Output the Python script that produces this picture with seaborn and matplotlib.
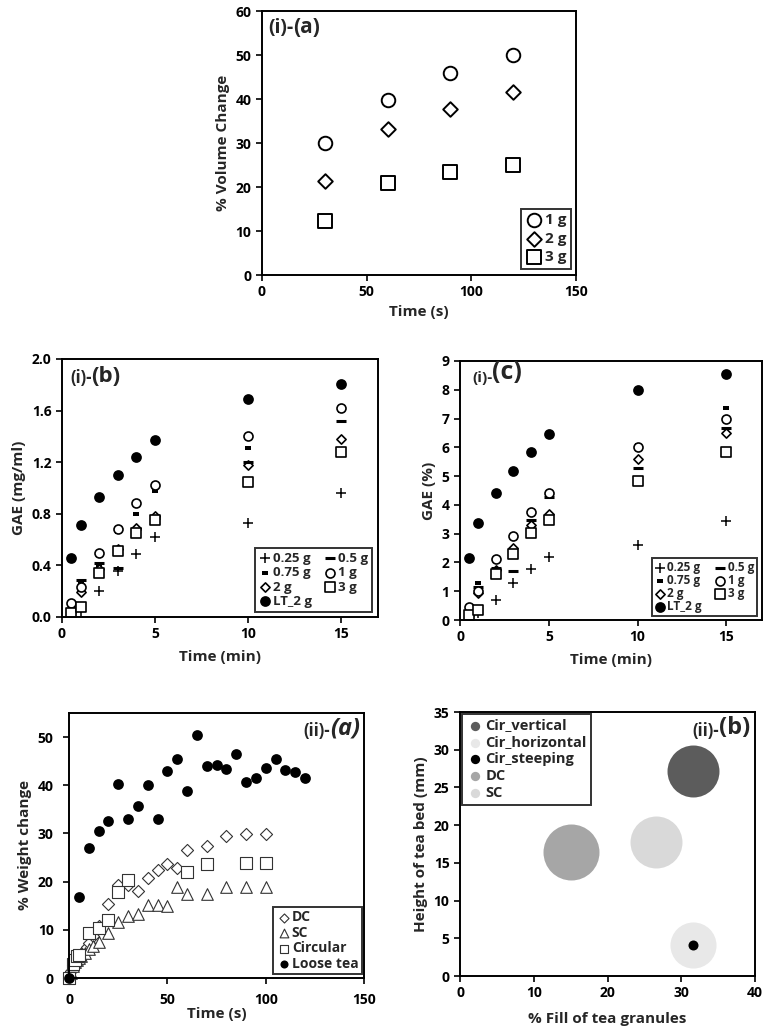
import numpy as np
import pandas as pd
import seaborn as sns
import matplotlib.pyplot as plt

sns.set_style("ticks")
plt.rcParams['font.family'] = ['Open Sans', 'DejaVu Sans']
plt.rcParams['font.weight'] = 'bold'
plt.rcParams['axes.labelweight'] = 'bold'

# %% data: (i)-(a) volume change
vol_time = [30, 60, 90, 120]
vol_1g = [30.0, 39.8, 46.0, 50.0]
vol_2g = [21.3, 33.1, 37.7, 41.5]
vol_3g = [12.2, 20.9, 23.4, 25.1]

# %% data: (i)-(b) GAE mg/ml and (i)-(c) GAE %
gae_time = [0.5, 1, 2, 3, 4, 5, 10, 15]
mgml_025 = [0.02, 0.05, 0.20, 0.36, 0.49, 0.62, 0.73, 0.96]
mgml_05 = [0.04, 0.29, 0.42, 0.38, 0.68, 0.77, 1.20, 1.52]
mgml_075 = [0.06, 0.27, 0.40, 0.66, 0.80, 0.98, 1.31, 1.60]
mgml_1 = [0.11, 0.23, 0.50, 0.68, 0.88, 1.02, 1.40, 1.62]
mgml_2 = [0.06, 0.19, 0.37, 0.53, 0.69, 0.78, 1.18, 1.38]
mgml_3 = [0.03, 0.08, 0.34, 0.51, 0.65, 0.75, 1.05, 1.28]
mgml_lt = [0.46, 0.71, 0.93, 1.10, 1.24, 1.37, 1.69, 1.81]

pct_025 = [0.08, 0.24, 0.69, 1.27, 1.76, 2.20, 2.60, 3.44]
pct_05 = [0.18, 1.16, 1.80, 1.70, 3.47, 4.28, 5.29, 6.66]
pct_075 = [0.30, 1.28, 2.05, 2.96, 3.80, 4.40, 6.08, 7.38]
pct_1 = [0.46, 1.00, 2.12, 2.92, 3.76, 4.40, 6.02, 6.97]
pct_2 = [0.25, 0.94, 1.75, 2.49, 3.30, 3.70, 5.61, 6.50]
pct_3 = [0.17, 0.35, 1.59, 2.28, 3.01, 3.47, 4.83, 5.84]
pct_lt = [2.15, 3.36, 4.40, 5.17, 5.84, 6.48, 7.99, 8.54]

# %% data: (ii)-(a) weight change
dc_time = [0, 1, 2, 3, 4, 5, 6, 7, 8, 9, 10, 12, 15, 20, 25, 30, 35, 40, 45, 50, 55, 60, 70, 80, 90, 100]
dc_val = [0, 1.5, 2.8, 3.6, 4.2, 4.6, 5.0, 5.4, 5.9, 6.5, 7.2, 8.7, 10.8, 15.4, 19.3, 19.3, 18.0, 20.7,
          22.5, 23.6, 22.9, 26.5, 27.5, 29.5, 29.8, 29.8]
sc_time = [0, 1, 2, 3, 4, 5, 6, 8, 10, 12, 15, 20, 25, 30, 35, 40, 45, 50, 55, 60, 70, 80, 90, 100]
sc_val = [0, 1.0, 2.5, 3.3, 3.8, 4.2, 4.6, 5.2, 6.0, 6.6, 7.4, 9.3, 11.7, 12.9, 13.3, 15.1, 15.1, 14.9,
          18.8, 17.4, 17.4, 18.9, 18.9, 18.9]
cir_time = [0, 2, 3, 4, 5, 10, 15, 20, 25, 30, 60, 70, 90, 100]
cir_val = [0, 3.0, 3.8, 4.5, 4.8, 9.3, 10.3, 12.0, 17.9, 20.3, 21.9, 23.6, 23.9, 23.9]
lt_time = list(range(0, 121, 5))
lt_val = [0, 16.9, 27.0, 30.6, 32.6, 40.2, 32.9, 35.7, 40.1, 32.9, 42.9, 45.4, 38.8, 50.4, 44.0, 44.2,
          43.4, 46.5, 40.6, 41.6, 43.5, 45.5, 43.2, 42.7, 41.5]

# %% data: (ii)-(b) bubbles
bub_name = ['Cir_vertical', 'Cir_horizontal', 'Cir_steeping', 'DC', 'SC']
bub_fill = [31.6, 31.6, 31.6, 15.0, 26.6]
bub_height = [27.2, 4.1, 4.1, 16.4, 17.8]
bub_area = [1400, 1100, 52, 1625, 1400]
bub_color = ['#5c5c5c', '#e8e8e8', '#000000', '#a6a6a6', '#d9d9d9']

# %%
W, H = 767, 1026
fig = plt.figure(figsize=(W / 100, H / 100), dpi=100)


def px_axes(l, t, r, b):
    return fig.add_axes([l / W, 1 - b / H, (r - l) / W, (b - t) / H])


def style(ax):
    for s in ax.spines.values():
        s.set_visible(True)
        s.set_color('black')
        s.set_linewidth(1.4)
    ax.tick_params(direction='out', length=4, width=1.2, labelsize=10, colors='black')
    ax.grid(False)


def panel_label(ax, pre, let, x, y, pre_size, let_size, right=False, italic=False):
    st = 'italic' if italic else 'normal'
    if right:
        t = ax.text(x, y, let, transform=ax.transAxes, ha='right', va='center',
                    fontsize=let_size, style=st)
        ax.annotate(pre, xy=(0, 0), xycoords=t, ha='right', va='bottom', fontsize=pre_size)
    else:
        t = ax.text(x, y, pre, transform=ax.transAxes, ha='left', va='center', fontsize=pre_size)
        ax.annotate(let, xy=(1, 0), xycoords=t, ha='left', va='bottom', fontsize=let_size, style=st)


open_kw = dict(facecolor='white', edgecolor='black')
bar_thick = [(-1, -0.5), (1, -0.5), (1, 0.5), (-1, 0.5), (-1, -0.5)]

# %% (i)-(a)
ax = px_axes(262, 11, 576, 275)
sns.scatterplot(x=vol_time, y=vol_1g, ax=ax, marker='o', s=95, linewidth=1.4, label='1 g', **open_kw)
sns.scatterplot(x=vol_time, y=vol_2g, ax=ax, marker='D', s=55, linewidth=1.4, label='2 g', **open_kw)
sns.scatterplot(x=vol_time, y=vol_3g, ax=ax, marker='s', s=95, linewidth=1.4, label='3 g', **open_kw)
ax.set_xlim(0, 150)
ax.set_ylim(0, 60)
ax.set_xticks([0, 50, 100, 150])
ax.set_yticks(range(0, 61, 10))
ax.set_xlabel('Time (s)', fontsize=11)
ax.set_ylabel('% Volume Change', fontsize=11)
style(ax)
leg = ax.legend(loc='lower right', bbox_to_anchor=(0.984, 0.023), borderaxespad=0, fontsize=11,
                frameon=True, fancybox=False, edgecolor='black', handletextpad=0.1,
                labelspacing=0.3, borderpad=0.3, handlelength=1.2)
leg.get_frame().set_linewidth(1.4)
panel_label(ax, '(i)-', '(a)', 0.02, 0.935, 14, 15)


# %% (i)-(b) and (i)-(c)
def gae_panel(ax, v025, v05, v075, v1, v2, v3, vlt):
    sns.scatterplot(x=gae_time, y=v025, ax=ax, marker='+', s=45, linewidth=1.1, color='black', label='0.25 g')
    sns.scatterplot(x=gae_time, y=v075, ax=ax, marker=bar_thick, s=22, linewidth=0, color='black', label='0.75 g')
    sns.scatterplot(x=gae_time, y=v2, ax=ax, marker='D', s=22, linewidth=1.2, label='2 g', **open_kw)
    sns.scatterplot(x=gae_time, y=vlt, ax=ax, marker='o', s=60, linewidth=0, color='black', label='LT_2 g')
    sns.scatterplot(x=gae_time, y=v05, ax=ax, marker='_', s=55, linewidth=2.2, color='black', label='0.5 g')
    sns.scatterplot(x=gae_time, y=v1, ax=ax, marker='o', s=42, linewidth=1.2, label='1 g', **open_kw)
    sns.scatterplot(x=gae_time, y=v3, ax=ax, marker='s', s=42, linewidth=1.2, label='3 g', **open_kw)
    ax.set_xlim(0, 17)
    ax.set_xticks([0, 5, 10, 15])
    ax.set_xlabel('Time (min)', fontsize=11, labelpad=6)
    style(ax)


ax = px_axes(62, 359, 378, 617)
gae_panel(ax, mgml_025, mgml_05, mgml_075, mgml_1, mgml_2, mgml_3, mgml_lt)
ax.set_ylim(0, 2.0)
ax.set_yticks(np.arange(0, 2.01, 0.4))
ax.set_yticklabels([f'{v:.1f}' for v in np.arange(0, 2.01, 0.4)])
ax.set_ylabel('GAE (mg/ml)', fontsize=11)
leg = ax.legend(ncol=2, loc='lower right', bbox_to_anchor=(0.981, 0.02), borderaxespad=0, fontsize=9.5,
                frameon=True, fancybox=False, edgecolor='black', handletextpad=0.2, columnspacing=1.0,
                labelspacing=0.1, borderpad=0.3, handlelength=0.8)
leg.get_frame().set_linewidth(1.4)
panel_label(ax, '(i)-', '(b)', 0.025, 0.926, 12, 16)

ax = px_axes(460, 361, 762, 620)
gae_panel(ax, pct_025, pct_05, pct_075, pct_1, pct_2, pct_3, pct_lt)
ax.set_ylim(0, 9)
ax.set_yticks(range(0, 10))
ax.set_ylabel('GAE (%)', fontsize=11)
leg = ax.legend(ncol=2, loc='lower right', bbox_to_anchor=(0.983, 0.015), borderaxespad=0, fontsize=8.5,
                frameon=True, fancybox=False, edgecolor='black', handletextpad=0.2, columnspacing=1.2,
                labelspacing=0.0, borderpad=0.25, handlelength=0.8)
leg.get_frame().set_linewidth(1.4)
panel_label(ax, '(i)-', '(c)', 0.04, 0.934, 11, 18)

# %% (ii)-(a)
ax = px_axes(69, 713, 364, 978)
edge = '#333333'
sns.scatterplot(x=dc_time, y=dc_val, ax=ax, marker='D', s=38, linewidth=0.8, facecolor='white',
                edgecolor=edge, label='DC', clip_on=False)
sns.scatterplot(x=sc_time, y=sc_val, ax=ax, marker='^', s=70, linewidth=0.8, facecolor='white',
                edgecolor=edge, label='SC', clip_on=False)
sns.scatterplot(x=cir_time, y=cir_val, ax=ax, marker='s', s=70, linewidth=0.8, facecolor='white',
                edgecolor=edge, label='Circular', clip_on=False)
sns.scatterplot(x=lt_time, y=lt_val, ax=ax, marker='o', s=60, linewidth=0, color='black',
                label='Loose tea', clip_on=False)
ax.set_xlim(0, 150)
ax.set_ylim(0, 55)
ax.set_xticks([0, 50, 100, 150])
ax.set_yticks(range(0, 51, 10))
ax.set_xlabel('Time (s)', fontsize=11, labelpad=0)
ax.set_ylabel('% Weight change', fontsize=11)
style(ax)
ax.tick_params(axis='both', pad=7)
leg = ax.legend(loc='lower right', bbox_to_anchor=(0.993, 0.015), borderaxespad=0, fontsize=10,
                frameon=True, fancybox=False, edgecolor='black', handletextpad=0.1,
                labelspacing=0.1, borderpad=0.25, handlelength=1.0, markerscale=0.75)
leg.get_frame().set_linewidth(1.4)
panel_label(ax, '(ii)-', '(a)', 0.986, 0.943, 12, 17, right=True, italic=True)

# %% (ii)-(b)
ax = px_axes(460, 712, 755, 976)
for i in range(len(bub_name)):
    sns.scatterplot(x=[bub_fill[i]], y=[bub_height[i]], ax=ax, marker='o', s=bub_area[i],
                    color=bub_color[i], linewidth=0, label=bub_name[i])
ax.set_xlim(0, 40)
ax.set_ylim(0, 35)
ax.set_xticks(range(0, 41, 10))
ax.set_yticks(range(0, 36, 5))
ax.set_xlabel('% Fill of tea granules', fontsize=11, labelpad=8)
ax.set_ylabel('Height of tea bed (mm)', fontsize=11)
style(ax)
leg = ax.legend(loc='upper left', bbox_to_anchor=(0.007, 0.992), borderaxespad=0, fontsize=10.5,
                frameon=True, fancybox=False, edgecolor='black', handletextpad=0.1,
                labelspacing=0.2, borderpad=0.3, handlelength=1.2)
leg.get_frame().set_linewidth(1.4)
for h in leg.legend_handles:
    h.set_sizes([45])
panel_label(ax, '(ii)-', '(b)', 0.983, 0.94, 12, 17, right=True)

fig.savefig('out.png', dpi=100, facecolor='white')
